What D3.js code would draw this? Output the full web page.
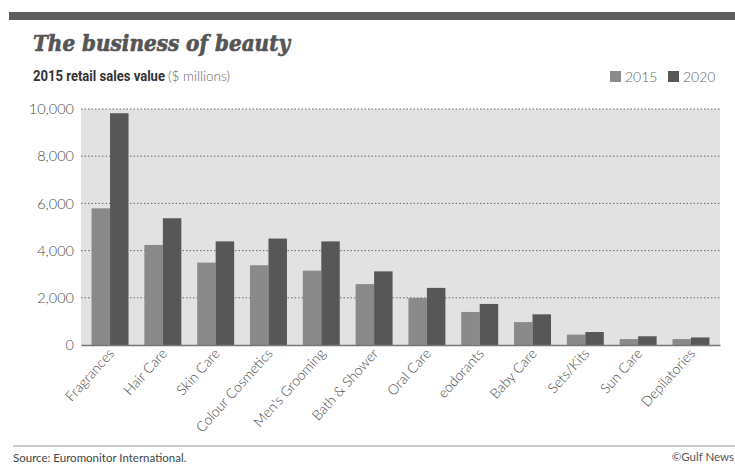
<!DOCTYPE html>
<meta charset="utf-8">
<html>
<head>
  <script src="https://d3js.org/d3.v7.min.js"></script>
  <style>
    body { margin: 0; background: #fff; }
    text { fill: #555; }
  </style>
</head>
<body>
  <div id="viz"></div>
  <script>
    // chart values
    var categories = ["Fragrances", "Hair Care", "Skin Care", "Colour Cosmetics", "Men's Grooming",
      "Bath & Shower", "Oral Care", "eodorants", "Baby Care", "Sets/Kits", "Sun Care", "Depilatories"];
    var sales2015 = [5790, 4240, 3490, 3380, 3150, 2580, 1990, 1400, 970, 440, 250, 250];
    var sales2020 = [9820, 5370, 4390, 4510, 4390, 3120, 2420, 1740, 1300, 550, 370, 320];
    var seriesNames = ["2015", "2020"];
    var yTicks = [0, 2000, 4000, 6000, 8000, 10000];

    var colors = { "2015": "#8a8a8a", "2020": "#575757" };
    var light = "Lato, 'Open Sans', sans-serif";

    var svg = d3.select("#viz").append("svg")
      .attr("width", 735)
      .attr("height", 465);

    // dark band across the top
    svg.append("rect").attr("x", 9).attr("y", 12).attr("width", 726).attr("height", 8).attr("fill", "#5e5e5e");

    // title + subtitle
    svg.append("text")
      .attr("x", 33).attr("y", 51)
      .attr("font-family", "'DejaVu Serif', serif")
      .attr("font-style", "italic").attr("font-weight", "bold")
      .attr("font-size", 23)
      .attr("textLength", 257).attr("lengthAdjust", "spacingAndGlyphs")
      .attr("stroke", "#555").attr("stroke-width", 0.7)
      .style("fill", "#555")
      .text("The business of beauty");

    svg.append("text")
      .attr("x", 33).attr("y", 81)
      .attr("font-family", "Roboto, sans-serif").attr("font-weight", "bold")
      .attr("font-size", 14)
      .attr("textLength", 132).attr("lengthAdjust", "spacingAndGlyphs")
      .style("fill", "#333")
      .text("2015 retail sales value");

    svg.append("text")
      .attr("x", 168).attr("y", 81)
      .attr("font-family", light).attr("font-weight", 300)
      .attr("font-size", 14)
      .attr("textLength", 62).attr("lengthAdjust", "spacingAndGlyphs")
      .style("fill", "#666")
      .text("($ millions)");

    // legend
    var legendX = [610, 668];
    seriesNames.forEach(function(s, i) {
      svg.append("rect").attr("x", legendX[i]).attr("y", 71).attr("width", 11).attr("height", 11).attr("fill", colors[s]);
      svg.append("text")
        .attr("x", legendX[i] + 15).attr("y", 82)
        .attr("font-family", light).attr("font-weight", 300).attr("font-size", 14)
        .style("fill", "#666")
        .text(s);
    });

    // plot area
    var plot = { left: 81, right: 720, top: 109, bottom: 345 };

    var x = d3.scaleBand()
      .domain(categories)
      .range([plot.left, plot.right])
      .paddingInner(0.3)
      .paddingOuter(0.2);

    var x1 = d3.scaleBand()
      .domain(seriesNames)
      .range([0, x.bandwidth()]);

    var y = d3.scaleLinear()
      .domain([0, 10000])
      .range([plot.bottom, plot.top]);

    svg.append("rect")
      .attr("x", plot.left).attr("y", plot.top)
      .attr("width", plot.right - plot.left).attr("height", plot.bottom - plot.top)
      .attr("fill", "#e2e2e2");

    // dotted grid lines
    svg.append("g").selectAll("line")
      .data(yTicks.filter(function(d) { return d > 0; }))
      .enter().append("line")
      .attr("x1", plot.left).attr("x2", plot.right)
      .attr("y1", function(d) { return y(d); }).attr("y2", function(d) { return y(d); })
      .attr("stroke", "#6a6a6a")
      .attr("stroke-width", 1)
      .attr("stroke-dasharray", "1.5,2");

    // y axis labels
    var yAxis = svg.append("g")
      .attr("transform", "translate(" + plot.left + ",0)")
      .call(d3.axisLeft(y).tickValues(yTicks).tickFormat(d3.format(",")).tickSize(0).tickPadding(7));
    yAxis.select(".domain").remove();
    yAxis.selectAll("text")
      .attr("font-family", light).attr("font-weight", 300).attr("font-size", 14.5)
      .style("fill", "#4a4a4a");

    // bars
    var rows = categories.map(function(c, i) {
      return { cat: c, values: [{ s: "2015", v: sales2015[i] }, { s: "2020", v: sales2020[i] }] };
    });

    var groups = svg.append("g").selectAll("g")
      .data(rows)
      .enter().append("g")
      .attr("transform", function(d) { return "translate(" + x(d.cat) + ",0)"; });

    groups.selectAll("rect")
      .data(function(d) { return d.values; })
      .enter().append("rect")
      .attr("x", function(d) { return x1(d.s); })
      .attr("y", function(d) { return y(d.v); })
      .attr("width", x1.bandwidth())
      .attr("height", function(d) { return y(0) - y(d.v); })
      .attr("fill", function(d) { return colors[d.s]; });

    // x axis
    var xAxis = svg.append("g")
      .attr("transform", "translate(0," + plot.bottom + ")")
      .call(d3.axisBottom(x).tickSize(0).tickPadding(0));
    xAxis.select(".domain")
      .attr("stroke", "#777").attr("stroke-width", 1.5);
    xAxis.selectAll("text")
      .attr("font-family", light).attr("font-weight", 300).attr("font-size", 14)
      .style("fill", "#4a4a4a")
      .attr("text-anchor", "end")
      .attr("dy", 0)
      .attr("transform", "translate(5,9) rotate(-48)");

    // footer
    svg.append("line")
      .attr("x1", 13).attr("x2", 735).attr("y1", 446).attr("y2", 446)
      .attr("stroke", "#bbb").attr("stroke-width", 1.5);

    svg.append("text")
      .attr("x", 13).attr("y", 462)
      .attr("font-family", light).attr("font-size", 11.5)
      .style("fill", "#444")
      .text("Source: Euromonitor International.");

    svg.append("text")
      .attr("x", 734).attr("y", 461)
      .attr("text-anchor", "end")
      .attr("font-family", light).attr("font-size", 11.5)
      .style("fill", "#555")
      .text("©Gulf News");
  </script>
</body>
</html>
